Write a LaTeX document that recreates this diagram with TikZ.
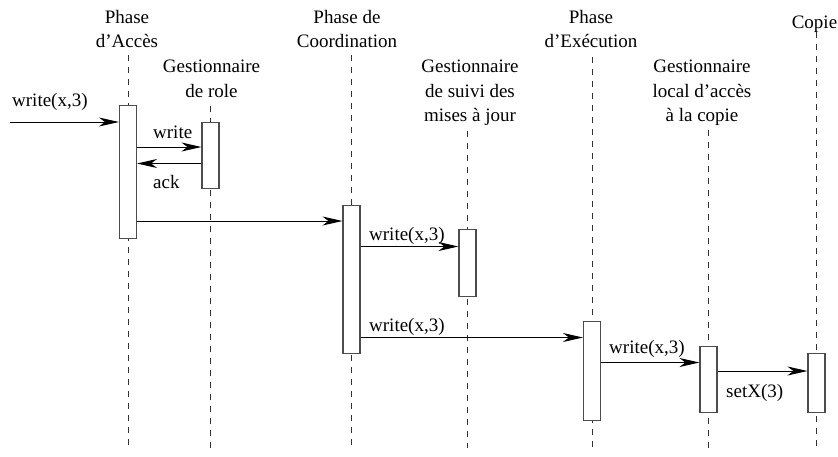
\documentclass[tikz,border=0pt]{standalone}
\usepackage{fontspec}
\setmainfont{Liberation Serif}
\usetikzlibrary{arrows.meta}
\begin{document}
\begin{tikzpicture}[x=1pt,y=-1pt,
  font=\fontsize{19}{24.5}\selectfont,
  hdr/.style={align=center,anchor=north,inner sep=0pt},
  lbl/.style={anchor=base west,inner sep=0pt},
  act/.style={draw=black!70,line width=1.1pt,fill=white,minimum width=17pt,inner sep=0pt,anchor=north},
  life/.style={draw=black!80,line width=0.9pt,dash pattern=on 6pt off 6pt},
  msg/.style={draw=black,line width=1pt,-{Stealth[length=20pt,width=9pt,inset=6pt]}},
]
\useasboundingbox (0,0) rectangle (838,456);
% headers
\node[hdr] (h1) at (127,10) {Phase\\d’Accès};
\node[hdr] (h2) at (211.5,60) {Gestionnaire\\de role};
\node[hdr] (h3) at (347,10) {Phase de\\Coordination};
\node[hdr] (h4) at (470,60) {Gestionnaire\\de suivi des\\mises à jour};
\node[hdr] (h5) at (591,10) {Phase\\d’Exécution};
\node[hdr] (h6) at (702,60) {Gestionnaire\\local d’accès\\ à la copie};
\node[anchor=base,inner sep=0pt] (h7) at (814.5,28) {Copie};
% lifelines
\coordinate (t1) at (128,55);   \coordinate (b1) at (128,448);
\coordinate (t2) at (210.5,106);\coordinate (b2) at (210.5,448);
\coordinate (t3) at (351.5,55); \coordinate (b3) at (351.5,448);
\coordinate (t4) at (467.5,131);\coordinate (b4) at (467.5,448);
\coordinate (t5) at (592,57);   \coordinate (b5) at (592,448);
\coordinate (t6) at (708.5,130);\coordinate (b6) at (708.5,448);
\coordinate (t7) at (816.5,32); \coordinate (b7) at (816.5,448);
\foreach \i in {1,...,7} {\draw[life] (t\i) -- (b\i);}
% activations
\node[act,minimum height=133pt] (a1) at (128,105) {};
\node[act,minimum height=66pt]  (a2) at (210.5,122) {};
\node[act,minimum height=148pt] (a3) at (351.5,205) {};
\node[act,minimum height=67pt]  (a4) at (467.5,229) {};
\node[act,minimum height=99pt]  (a5) at (592,321) {};
\node[act,minimum height=66pt]  (a6) at (708.5,346) {};
\node[act,minimum height=59pt]  (a7) at (816.5,353) {};
% message levels
\coordinate (in) at (10,122);
\coordinate (y1) at (0,147);
\coordinate (y2) at (0,163.5);
\coordinate (y3) at (0,221);
\coordinate (y4) at (0,246.5);
\coordinate (y5) at (0,337.5);
\coordinate (y6) at (0,362.5);
\coordinate (y7) at (0,371);
% messages
\draw[msg] (in) -- (a1.west |- in);
\draw[msg] (a1.east |- y1) -- (a2.west |- y1);
\draw[msg] (a2.west |- y2) -- (a1.east |- y2);
\draw[msg] (a1.east |- y3) -- (a3.west |- y3);
\draw[msg] (a3.east |- y4) -- (a4.west |- y4);
\draw[msg] (a3.east |- y5) -- (a5.west |- y5);
\draw[msg] (a5.east |- y6) -- (a6.west |- y6);
\draw[msg] (a6.east |- y7) -- (a7.west |- y7);
% labels
\node[lbl] (m0) at (12,106) {write(x,3)};
\node[lbl] (m1) at (153,138) {write};
\node[lbl] (m2) at (153,188) {ack};
\node[lbl] (m4) at (369,240) {write(x,3)};
\node[lbl] (m5) at (369,331) {write(x,3)};
\node[lbl] (m6) at (609,353) {write(x,3)};
\node[lbl] (m7) at (726,397) {setX(3)};
\end{tikzpicture}
\end{document}
